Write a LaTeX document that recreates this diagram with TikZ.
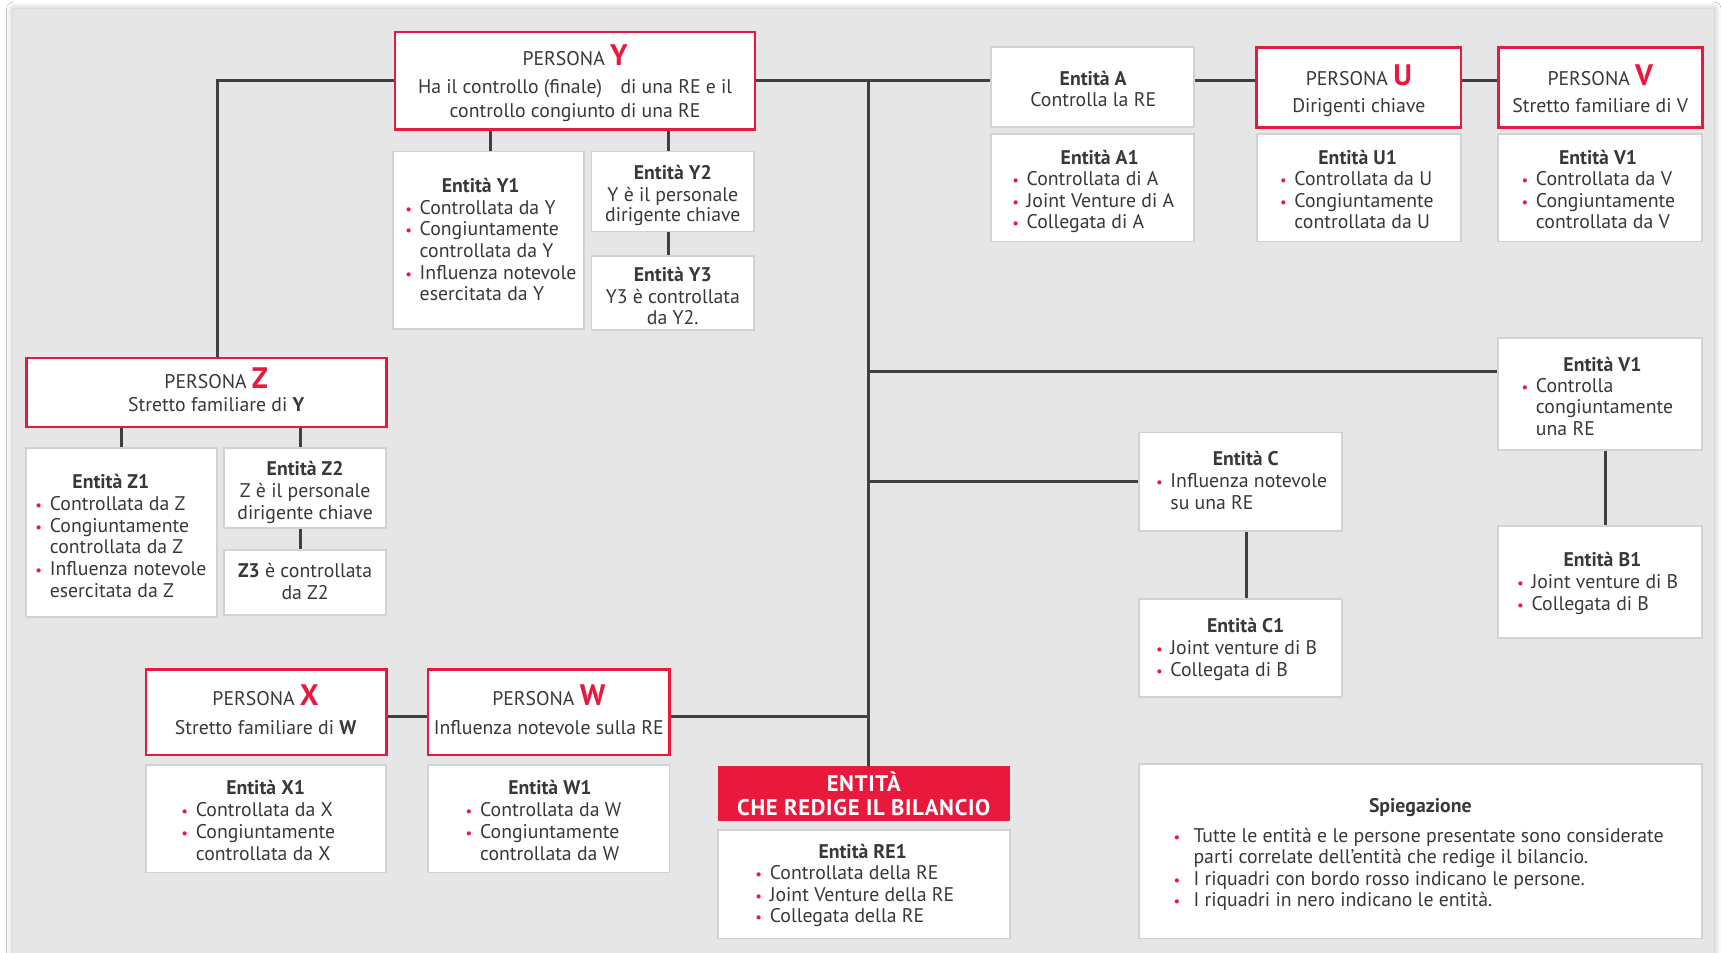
\documentclass[tikz,border=0pt]{standalone}
\usepackage{fontspec}
\setmainfont{PT Sans}
\usetikzlibrary{calc,shadows.blur}

\definecolor{panel}{HTML}{E6E6E6}
\definecolor{cred}{HTML}{E8193C}
\definecolor{lnk}{HTML}{404040}
\definecolor{ebord}{HTML}{D2D2D2}
\definecolor{ink}{HTML}{383838}

% red bullets for the lists
\newcommand\bul{\llap{\textcolor{cred}{\scalebox{0.75}{\textbullet}}\hspace{3.5pt}}}
\newcommand\lbul{\llap{\textcolor{cred}{\scalebox{0.75}{\textbullet}}\hspace{6pt}}}

\tikzset{
  x=0.5pt, y=-0.5pt,
  ent/.style={draw=ebord, line width=0.8pt, fill=white, inner sep=0pt},
  per/.style={draw=cred, line width=1.2pt, fill=white, inner sep=0pt},
  refill/.style={fill=cred, inner sep=0pt},
  txt/.style={inner sep=0pt, text=ink, font=\fontsize{9}{9.85}\selectfont},
  ttl/.style={txt, font=\fontsize{9}{9.85}\selectfont\bfseries},
  retxt/.style={inner sep=0pt, anchor=base, text=white, font=\fontsize{10.3}{12}\selectfont\bfseries\addfontfeatures{LetterSpace=3}},
  lowered/.style={yshift=-1.1pt},
  lnkline/.style={draw=lnk, line width=1.3pt},
}

% box from corner (x1,y1) to (x2,y2)
\newcommand\mkbox[6]{\node[#1, minimum width={(#5-#3)*0.5pt}, minimum height={(#6-#4)*0.5pt}] (#2) at ({(#3+#5)/2},{(#4+#6)/2}) {};}
% one centred line of text, positioned by its baseline
\newcommand\cl[4]{\node[txt, lowered, anchor=base] (#1) at (#2,#3) {#4};}
\newcommand\ctitle[4]{\node[ttl, lowered, anchor=base] (#1) at (#2,#3) {#4};}
% left aligned list, positioned by the baseline of its first line
\newcommand\blist[4]{\node[txt, lowered, anchor=base west] (#1) at (#2,#3) {\begin{tabular}[t]{@{}l@{}}#4\end{tabular}};}
% person heading with the large red letter
\newcommand\ptitle[4]{\node[txt, anchor=base, font=\fontsize{9}{10}\selectfont] (#1) at (#2,#3) {PERSONA {\fontsize{13.5}{13.5}\selectfont\bfseries\textcolor{cred}{#4}}};}

\begin{document}
\begin{tikzpicture}
\useasboundingbox (0,0) rectangle (1568,868);
\fill[white] (0,0) rectangle (1568,868);
\fill[panel, blur shadow={shadow xshift=0pt, shadow yshift=0pt, shadow blur radius=3pt, shadow opacity=30}] (12,8) rectangle (1562,890);

% ---- boxes ----
\mkbox{per}{py}{360}{29}{688}{118}
\mkbox{ent}{y1}{358}{138}{532}{300}
\mkbox{ent}{y2}{539}{138}{687}{211}
\mkbox{ent}{y3}{539}{233}{687}{301}
\mkbox{per}{pz}{24}{326}{352}{389}
\mkbox{ent}{z1}{24}{408}{198}{562}
\mkbox{ent}{z2}{204}{408}{352}{481}
\mkbox{ent}{z3}{204}{501}{352}{560}
\mkbox{ent}{ea}{903}{43}{1088}{116}
\mkbox{ent}{ea1}{903}{122}{1088}{220}
\mkbox{per}{pu}{1145}{43}{1331}{116}
\mkbox{ent}{u1}{1145}{122}{1331}{220}
\mkbox{per}{pv}{1365}{43}{1551}{116}
\mkbox{ent}{v1}{1365}{122}{1551}{220}
\mkbox{ent}{v1b}{1365}{308}{1551}{410}
\mkbox{ent}{b1}{1365}{479}{1551}{581}
\mkbox{ent}{ec}{1038}{394}{1223}{484}
\mkbox{ent}{c1}{1038}{546}{1223}{635}
\mkbox{per}{px}{133}{610}{352}{688}
\mkbox{per}{pw}{390}{610}{610}{688}
\mkbox{ent}{x1}{133}{697}{352}{795}
\mkbox{ent}{w1}{390}{697}{610}{795}
\mkbox{refill}{re}{654}{698}{920}{748}
\mkbox{ent}{re1}{654}{756}{920}{855}
\mkbox{ent}{leg}{1038}{696}{1551}{855}

% ---- connectors ----
\coordinate (tk) at (791,73.5);
\coordinate (v1bin) at ($(v1b.north west)+(0,31)$);
\draw[lnkline] (py.west) -| ([xshift=5pt]pz.north);
\draw[lnkline] ([xshift=1pt]y1.north) -- ([xshift=1pt]y1.north |- py.south);
\draw[lnkline] ([xshift=-2pt]y2.north) -- ([xshift=-2pt]y2.north |- py.south);
\draw[lnkline] ([xshift=-2pt]y2.south) -- ([xshift=-2pt]y3.north);
\draw[lnkline] (z1.north) -- (z1.north |- pz.south);
\draw[lnkline] ([xshift=-2pt]z2.north) -- ([xshift=-2pt]z2.north |- pz.south);
\draw[lnkline] ([xshift=-2pt]z2.south) -- ([xshift=-2pt]z3.north);
\draw[lnkline] (py.east) -- (py.east -| ea.west);
\draw[lnkline] (ea.east |- py.east) -- (pu.west |- py.east);
\draw[lnkline] (pu.east |- py.east) -- (pv.west |- py.east);
\draw[lnkline] (tk) -- (tk |- re.north);
\draw[lnkline] (tk |- v1bin) -- (v1bin);
\draw[lnkline] (tk |- ec.west) -- (ec.west);
\draw[lnkline] ([xshift=2.75pt]ec.south) -- ([xshift=2.75pt]c1.north);
\draw[lnkline] ([xshift=2.5pt]v1b.south) -- ([xshift=2.5pt]b1.north);
\draw[lnkline] ([yshift=-2pt]px.east) -- ([yshift=-2pt]pw.west);
\draw[lnkline] ([yshift=-2pt]pw.east) -- ([yshift=-2pt]pw.east -| tk);

% ---- texts ----
\ptitle{tpy}{524}{60}{Y}
\cl{tpy1}{524}{83}{Ha il controllo (finale)\hspace{6pt} di una RE e il}
\cl{tpy2}{524}{105}{controllo congiunto di una RE}

\ctitle{ty1}{438}{173}{Entità Y1}
\blist{ly1}{382}{193}{\bul Controllata da Y\\ \bul Congiuntamente\\ controllata da Y\\ \bul Influenza notevole\\ esercitata da Y}

\ctitle{ty2}{613}{161}{Entità Y2}
\cl{ty2a}{613}{181}{Y è il personale}
\cl{ty2b}{613}{200}{dirigente chiave}

\ctitle{ty3}{613}{254}{Entità Y3}
\cl{ty3a}{613}{274}{Y3 è controllata}
\cl{ty3b}{613}{293}{da Y2.}

\ptitle{tpz}{197}{354}{Z}
\cl{tpz1}{197}{373}{Stretto familiare di \textbf{Y}}

\ctitle{tz1}{101}{443}{Entità Z1}
\blist{lz1}{45}{463}{\bul Controllata da Z\\ \bul Congiuntamente\\ controllata da Z\\ \bul Influenza notevole\\ esercitata da Z}

\ctitle{tz2}{278}{431}{Entità Z2}
\cl{tz2a}{278}{451}{Z è il personale}
\cl{tz2b}{278}{471}{dirigente chiave}

\cl{tz3a}{278}{524}{\textbf{Z3} è controllata}
\cl{tz3b}{278}{544}{da Z2}

\ctitle{tea}{996}{76}{Entità A}
\cl{tea1}{996}{95}{Controlla la RE}

\ctitle{tea1t}{1002}{148}{Entità A1}
\blist{lea1}{935}{167}{\bul Controllata di A\\ \bul Joint Venture di A\\ \bul Collegata di A}

\ptitle{tpu}{1238}{78}{U}
\cl{tpu1}{1238}{100}{Dirigenti chiave}

\ctitle{tu1}{1237}{148}{Entità U1}
\blist{lu1}{1179}{167}{\bul Controllata da U\\ \bul Congiuntamente\\ controllata da U}

\ptitle{tpv}{1458}{78}{V}
\cl{tpv1}{1458}{100}{Stretto familiare di V}

\ctitle{tv1}{1456}{148}{Entità V1}
\blist{lv1}{1399}{167}{\bul Controllata da V\\ \bul Congiuntamente\\ controllata da V}

\ctitle{tv1b}{1460}{336}{Entità V1}
\blist{lv1b}{1399}{355}{\bul Controlla\\ congiuntamente\\ una RE}

\ctitle{tb1}{1460}{514}{Entità B1}
\blist{lb1}{1395}{534}{\bul Joint venture di B\\ \bul Collegata di B}

\ctitle{tc}{1135}{422}{Entità C}
\blist{lc}{1066}{442}{\bul Influenza notevole\\ su una RE}

\ctitle{tc1}{1135}{574}{Entità C1}
\blist{lc1}{1066}{594}{\bul Joint venture di B\\ \bul Collegata di B}

\ptitle{tpx}{242}{643}{X}
\cl{tpx1}{242}{667}{Stretto familiare di \textbf{W}}

\ptitle{tpw}{500}{643}{W}
\cl{tpw1}{500}{667}{Influenza notevole sulla RE}

\ctitle{tx1}{242}{722}{Entità X1}
\blist{lx1}{178}{742}{\bul Controllata da X\\ \bul Congiuntamente\\ controllata da X}

\ctitle{tw1}{501}{722}{Entità W1}
\blist{lw1}{437}{742}{\bul Controllata da W\\ \bul Congiuntamente\\ controllata da W}

\node[retxt] (tre1) at (787,721) {ENTITÀ};
\node[retxt] (tre2) at (787,743) {CHE REDIGE IL BILANCIO};

\ctitle{tre1t}{786}{780}{Entità RE1}
\blist{lre1}{701}{799}{\bul Controllata della RE\\ \bul Joint Venture della RE\\ \bul Collegata della RE}

\ctitle{tleg}{1294}{738}{Spiegazione}
\blist{lleg}{1087}{765}{\lbul Tutte le entità e le persone presentate sono considerate\\ parti correlate dell’entità che redige il bilancio.\\ \lbul I riquadri con bordo rosso indicano le persone.\\ \lbul I riquadri in nero indicano le entità.}
\end{tikzpicture}
\end{document}
